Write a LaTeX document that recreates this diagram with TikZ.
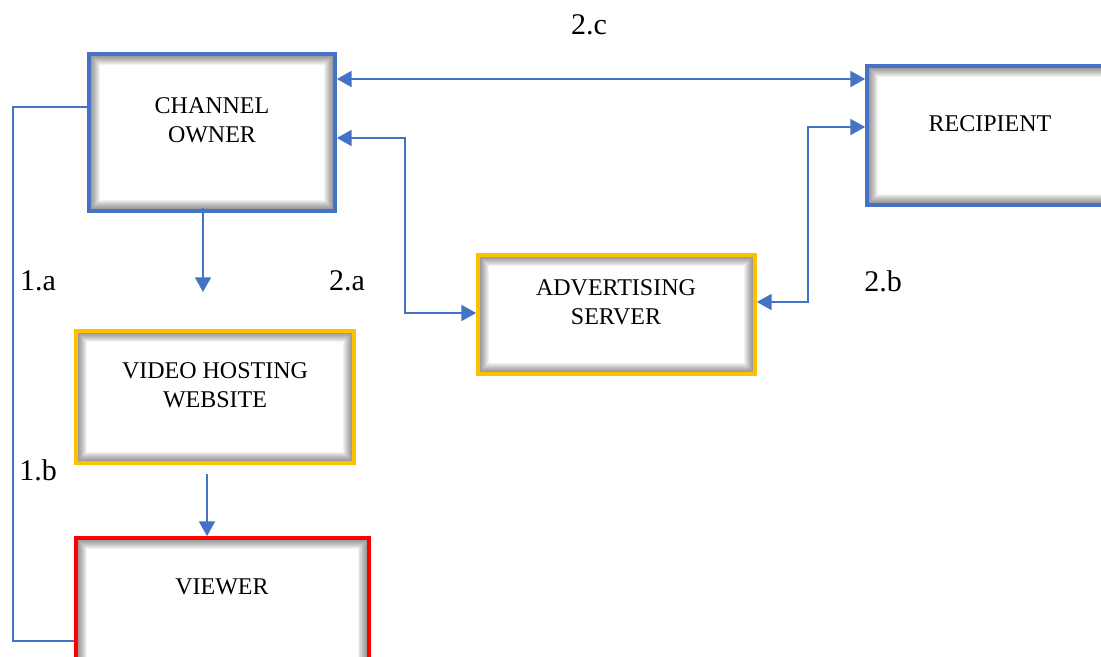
\documentclass[tikz,border=0pt]{standalone}
\usepackage{fontspec}
\setmainfont{Liberation Serif}
\usetikzlibrary{arrows.meta}
\definecolor{cblue}{HTML}{4472C4}
\definecolor{cgold}{HTML}{FFC000}
\definecolor{cred}{HTML}{FF0000}
\tikzset{
  box/.style={draw=none, fill=white, minimum width=#1, inner sep=0pt, outer sep=1.4pt,
    path picture={
      \foreach \i in {1,...,11}{
        \draw[line width=\i*1.5pt, black, opacity=0.05]
          (path picture bounding box.south west) rectangle (path picture bounding box.north east);
      }
    }},
  rim/.style={line width=2.8pt},
  boxtext/.style={font=\fontsize{18}{22}\selectfont, align=center, inner sep=0pt},
  lbl/.style={font=\fontsize{22.5}{26}\selectfont, inner sep=0pt},
  conn/.style={draw=cblue, line width=1.1pt},
  tip/.style={-{Triangle[length=11pt,width=12pt]}},
  both/.style={{Triangle[length=11pt,width=12pt]}-{Triangle[length=11pt,width=12pt]}}
}
\begin{document}
\begin{tikzpicture}[x=0.75pt,y=-0.75pt]
\useasboundingbox (0,0) rectangle (1101,657);
\clip (0,0) rectangle (1101,657);
% boxes
\node[box=246*0.75pt, minimum height=157*0.75pt] (co) at (212,132.5) {};
\node[box=246*0.75pt, minimum height=139*0.75pt] (rc) at (990,135.5) {};
\node[box=277*0.75pt, minimum height=119*0.75pt] (ad) at (616.5,314.5) {};
\node[box=278*0.75pt, minimum height=132*0.75pt] (vh) at (215,397) {};
\node[box=293*0.75pt, minimum height=138*0.75pt] (vw) at (222.5,607) {};
% borders on top of the inner shadow
\foreach \n/\col in {co/cblue, rc/cblue, ad/cgold, vh/cgold, vw/cred}{
  \draw[rim, draw=\col] ([shift={(1.4pt,-1.4pt)}]\n.north west) rectangle ([shift={(-1.4pt,1.4pt)}]\n.south east);
}
% box texts
\node[boxtext] (cot) at (212,120) {CHANNEL\\OWNER};
\node[boxtext] (rct) at (990,124) {RECIPIENT};
\node[boxtext] (adt) at (616,302) {ADVERTISING\\SERVER};
\node[boxtext] (vht) at (215,385) {VIDEO HOSTING\\WEBSITE};
\node[boxtext] (vwt) at (222,587) {VIEWER};
% labels
\node[lbl] (l2c) at (589,25) {2.c};
\node[lbl] (l1a) at (38,281) {1.a};
\node[lbl] (l2a) at (347,281) {2.a};
\node[lbl] (l2b) at (883,281) {2.b};
\node[lbl] (l1b) at (38,470) {1.b};
% helper coordinates
\coordinate (c1) at (13,107);
\coordinate (c2) at (13,641);
\coordinate (y2c) at (600,79);
\coordinate (a1) at (405,138);
\coordinate (a2) at (405,313);
\coordinate (b1) at (808,302);
\coordinate (b2) at (808,127);
\coordinate (d1) at (203,208);
\coordinate (d2) at (203,292);
\coordinate (e1) at (207,474);
% connectors
\draw[conn] (c1 -| co.west) -- (c1) -- (c2) -- (c2 -| vw.west);
\draw[conn, both] (y2c -| co.east) -- (y2c -| rc.west);
\draw[conn, both] (a1 -| co.east) -- (a1) -- (a2) -- (a2 -| ad.west);
\draw[conn, both] (b1 -| ad.east) -- (b1) -- (b2) -- (b2 -| rc.west);
\draw[conn, tip] (d1) -- (d2);
\draw[conn, tip] (e1) -- (e1 |- vw.north);
\end{tikzpicture}
\end{document}
